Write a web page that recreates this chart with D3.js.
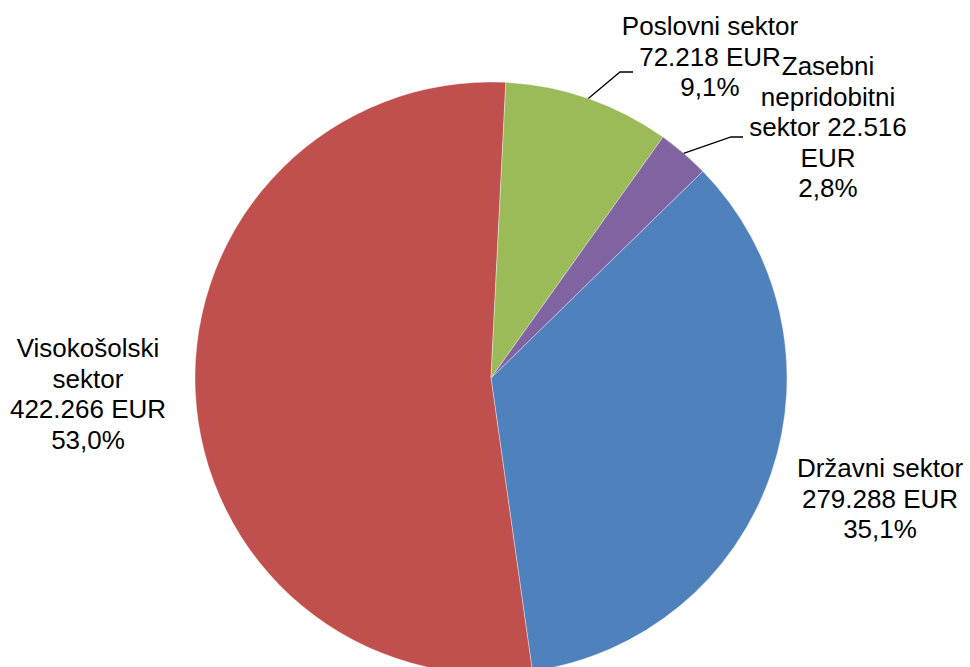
<!DOCTYPE html>
<html>
<head>
<meta charset="utf-8">
<script src="https://cdn.jsdelivr.net/npm/d3@7"></script>
<style>
  html, body { margin: 0; padding: 0; background: white; }
  svg { display: block; }
  text { font-family: "Liberation Sans", Arial, sans-serif; font-size: 26px; fill: #000; }
</style>
</head>
<body>
<div id="chart"></div>
<script>
var sectors = ["Državni sektor", "Visokošolski sektor", "Poslovni sektor", "Zasebni nepridobitni sektor"];
var amounts = [279288, 422266, 72218, 22516];
var amountLabels = ["279.288 EUR", "422.266 EUR", "72.218 EUR", "22.516 EUR"];
var percentLabels = ["35,1%", "53,0%", "9,1%", "2,8%"];
var colors = ["#4F81BD", "#C0504D", "#9BBB59", "#8064A2"];

// how each label is broken into lines (as Excel wrapped them)
var labelLines = [
  ["Državni sektor", "279.288 EUR", "35,1%"],
  ["Visokošolski", "sektor", "422.266 EUR", "53,0%"],
  ["Poslovni sektor", "72.218 EUR", "9,1%"],
  ["Zasebni", "nepridobitni", "sektor 22.516", "EUR", "2,8%"]
];

var width = 970, height = 667;
var cx = 491, cy = 378, radius = 296;
var lineH = 30.5;

// label centre x and first baseline
var labelPos = [
  {x: 880, y: 477},
  {x: 88, y: 357},
  {x: 710, y: 35},
  {x: 828, y: 75}
];
// leader lines: elbow and end points (null = no leader)
var leaders = [
  null,
  null,
  {ex: 620, ey: 72, tx: 633},
  {ex: 731, ey: 137, tx: 743}
];

var svg = d3.select("#chart").append("svg")
    .attr("width", width)
    .attr("height", height);

var start = 45.7 * Math.PI / 180;
var pie = d3.pie().sort(null).startAngle(start).endAngle(start + 2 * Math.PI);
var arcs = pie(amounts);

var arc = d3.arc().innerRadius(0).outerRadius(radius);

var g = svg.append("g").attr("transform", "translate(" + cx + "," + cy + ")");

g.selectAll("path.slice")
  .data(arcs)
  .enter().append("path")
    .attr("class", "slice")
    .attr("d", arc)
    .attr("fill", function(d, i) { return colors[i]; })
    .attr("stroke", "rgba(255,255,255,0.6)")
    .attr("stroke-width", 0.6);

// leader lines
arcs.forEach(function(d, i) {
  var L = leaders[i];
  if (!L) return;
  var mid = (d.startAngle + d.endAngle) / 2;
  var px = cx + radius * Math.sin(mid),
      py = cy - radius * Math.cos(mid);
  svg.append("polyline")
    .attr("points", [[px, py], [L.ex, L.ey], [L.tx, L.ey]].map(function(p) { return p.join(","); }).join(" "))
    .attr("fill", "none")
    .attr("stroke", "#000")
    .attr("stroke-width", 1.3);
});

// labels
labelLines.forEach(function(lines, i) {
  var t = svg.append("text")
    .attr("text-anchor", "middle")
    .attr("x", labelPos[i].x)
    .attr("y", labelPos[i].y);
  lines.forEach(function(s, j) {
    t.append("tspan")
      .attr("x", labelPos[i].x)
      .attr("y", labelPos[i].y + j * lineH)
      .text(s);
  });
});
</script>
</body>
</html>
